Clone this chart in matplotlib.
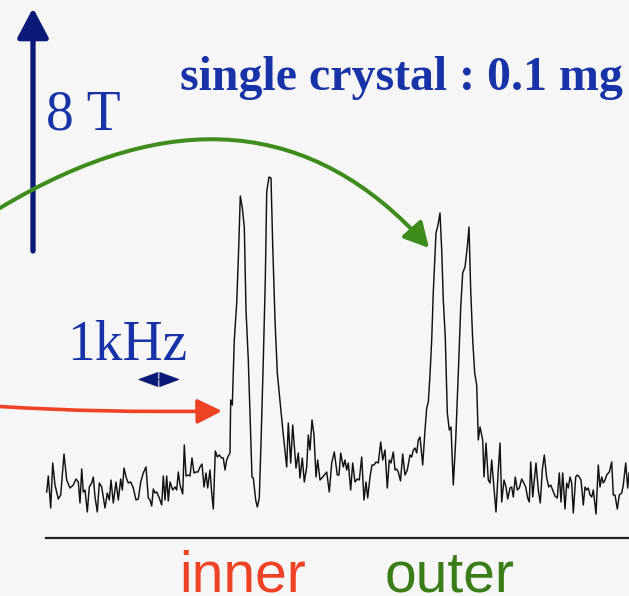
import matplotlib
matplotlib.use('Agg')
import matplotlib.pyplot as plt
from matplotlib.patches import FancyArrowPatch
from matplotlib.path import Path

# NMR trace: channel position and signal amplitude
channel = [46.7, 48.3, 50.7, 52.7, 55, 58.3, 60.7, 64, 66.7, 70, 73.3, 76, 78.3, 80, 81.7,
           83.3, 85, 87.3, 89.3, 91.7, 93.3, 95, 97.3, 99.3, 101.7, 105, 107.3, 109.3, 111,
           113.3, 116, 118.3, 120.7, 122.3, 124, 126, 128.3, 130.7, 133.3, 136, 138.3, 140.7,
           143.3, 146, 148.3, 150, 151.7, 153.3, 155, 156.7, 159.3, 161.7, 163.3, 165, 166.7,
           168.3, 170, 172.7, 175, 176.7, 178.3, 180, 182.7, 184.3, 186, 188.3, 190, 192, 194,
           196, 198, 200, 202, 204, 206, 207.7, 210, 211.7, 213.3, 215.3, 217.3, 219.3, 221.7,
           223.3, 225, 226.7, 228.3, 230, 230.7, 232.3, 234.3, 236.7, 238.3, 240.3, 242.3,
           244.3, 246, 248.3, 250, 252, 253.3, 255.7, 257.3, 259.3, 261.3, 263.3, 265.3, 266.7,
           269, 271, 272.7, 275, 277.3, 280.7, 283, 286.7, 288.3, 290.7, 292.7, 296, 298.3, 300,
           302.3, 304.3, 306.7, 308.3, 310, 312, 314, 316, 317.7, 320, 322.7, 326.7, 329.3,
           331.7, 334.3, 337.3, 339, 340.7, 343.3, 345, 346.7, 348.3, 350.7, 352.7, 355, 357.3,
           359.3, 361.7, 364, 366, 367.7, 370, 372, 374, 376, 378.3, 380.7, 382.7, 385, 387.3,
           389.3, 391, 393.3, 395, 396.7, 398.3, 400.5, 402.7, 405, 407.3, 410, 411.7, 413.3,
           415, 416.7, 418.3, 420, 422.7, 425, 426.7, 428.3, 430, 431.7, 433.3, 436, 438, 440,
           441.7, 443.3, 445.3, 447.3, 449.3, 451, 453.3, 455.7, 458.3, 460.7, 462.7, 465, 467.3,
           469, 470.7, 472.7, 474.7, 476.7, 478.3, 480, 482.7, 484, 486, 488.3, 490, 491.7,
           493.3, 496, 498.3, 500, 501.7, 504, 506, 507.7, 510, 511.7, 513.3, 515.3, 517.3,
           519.3, 521.7, 523.3, 525.7, 527.7, 529.3, 530.7, 532.7, 534.3, 536, 538.3, 540.3,
           542.3, 544.3, 546.7, 548.7, 550.7, 552.7, 555, 557.3, 559.3, 561, 562.7, 565, 566.7,
           568.3, 570, 571.7, 573.3, 575.7, 577.3, 579.3, 581, 583.3, 585, 586.7, 588.3, 590,
           591.7, 593.3, 596, 598.3, 600, 601.7, 603.3, 605, 606.7, 609.3, 611.7, 613.3, 615,
           617.3, 619.3, 621.7, 623.3, 625.7, 627.7, 629]
signal = [28, 44, 12, 57, 35, 21, 25, 66, 40, 32, 35, 41, 38, 17, 51,
          28, 30, 8, 33, 37, 43, 23, 8, 37, 33, 12, 27, 20, 40,
          17, 38, 20, 41, 30, 52, 43, 37, 38, 32, 20, 21, 38,
          47, 53, 22, 20, 14, 31, 27, 28, 22, 15, 44, 20, 44,
          19, 38, 30, 33, 30, 48, 35, 26, 75, 44, 45, 44, 62, 47,
          48, 48, 53, 56, 33, 47, 32, 50, 27, 11, 69, 63, 65, 62,
          62, 50, 60, 64, 67, 120, 115, 180, 217, 260, 324, 312,
          293, 210, 160, 105, 43, 42, 20, 13, 22, 87, 160, 240, 328,
          343, 342, 275, 200, 147, 112, 88, 53, 97, 57, 95, 52, 67, 42,
          62, 38, 53, 85, 70, 100, 85, 43, 60, 40, 43, 48, 28,
          57, 68, 45, 45, 67, 53, 60, 50, 57, 30, 57, 38, 41,
          40, 63, 20, 38, 22, 43, 55, 55, 58, 57, 78, 60, 70, 32,
          60, 57, 68, 50, 51, 48, 39, 66, 45, 50, 65, 63, 70,
          72, 67, 80, 83, 55, 90, 112, 118, 145, 180, 228, 287, 295, 307,
          270, 220, 182, 107, 90, 93, 35, 80, 147, 212, 247, 253, 273,
          293, 230, 180, 147, 135, 80, 93, 80, 43, 77, 40, 37, 60,
          40, 8, 50, 77, 18, 40, 33, 21, 32, 33, 23, 43, 30,
          32, 41, 38, 33, 22, 18, 58, 23, 40, 57, 30, 17,
          50, 65, 42, 33, 35, 30, 24, 22, 47, 18, 47, 11, 37,
          32, 43, 37, 7, 43, 45, 43, 40, 15, 33, 30, 32, 25,
          23, 30, 6, 55, 33, 43, 37, 40, 45, 48, 58, 25, 25,
          11, 25, 27, 35, 57, 32, 47]

bg = '#f6f6f6'
navy = '#0b1a78'
blue = '#1832a8'
red = '#ee4224'
green = '#3e8c1c'
green_txt = '#3a7c16'

fig = plt.figure(figsize=(6.29, 5.96), dpi=100)
fig.patch.set_facecolor(bg)

# canvas for labels and arrows (y grows downward)
ax = fig.add_axes([0, 0, 1, 1])
ax.set_xlim(0, 629)
ax.set_ylim(596, 0)
ax.axis('off')

# spectrum axes
spec = fig.add_axes([0, 0, 1, 1])
spec.set_xlim(0, 629)
spec.set_ylim(-76, 520)
spec.axis('off')
spec.plot(channel, signal, color='#111111', lw=1.05)
spec.axhline(-18.3, xmin=46 / 629, xmax=1, color='#222222', lw=1.6)

# field arrow
ax.add_patch(FancyArrowPatch((33, 251), (33, 8),
             arrowstyle='-|>,head_length=18,head_width=9.5',
             mutation_scale=1, lw=3.8, color=navy, shrinkA=0, shrinkB=0))
ax.text(45.5, 130, '8 T', family='Liberation Serif', fontsize=40,
        color=blue, va='baseline')

ax.text(180, 90, 'single crystal : 0.1 mg', family='Liberation Serif',
        fontweight='bold', fontsize=34.5, color=blue, va='baseline')

# 1 kHz scale
ax.text(67, 360, '1kHz', family='Liberation Serif', fontsize=40,
        color=blue, va='baseline')
ax.add_patch(FancyArrowPatch((137.7, 379.5), (180, 379.5),
             arrowstyle='<|-|>,head_length=13.5,head_width=5',
             mutation_scale=1, lw=0.7, color=navy, shrinkA=0, shrinkB=0))

# arrows to the lines
green_path = Path([(0, 208), (256, 54), (429, 248)],
                  [Path.MOVETO, Path.CURVE3, Path.CURVE3])
ax.add_patch(FancyArrowPatch(path=green_path,
             arrowstyle='-|>,head_length=15,head_width=8',
             mutation_scale=1, lw=2.9, color=green))
red_path = Path([(0, 406.5), (100, 413), (222, 411)],
                [Path.MOVETO, Path.CURVE3, Path.CURVE3])
ax.add_patch(FancyArrowPatch(path=red_path,
             arrowstyle='-|>,head_length=15,head_width=7.5',
             mutation_scale=1, lw=2.6, color=red))

ax.text(179.5, 591.5, 'inner', family='Liberation Sans', fontsize=41,
        color=red, va='baseline')
ax.text(385, 591.5, 'outer', family='Liberation Sans', fontsize=41,
        color=green_txt, va='baseline')

fig.savefig('out.png', dpi=100, facecolor=bg)
